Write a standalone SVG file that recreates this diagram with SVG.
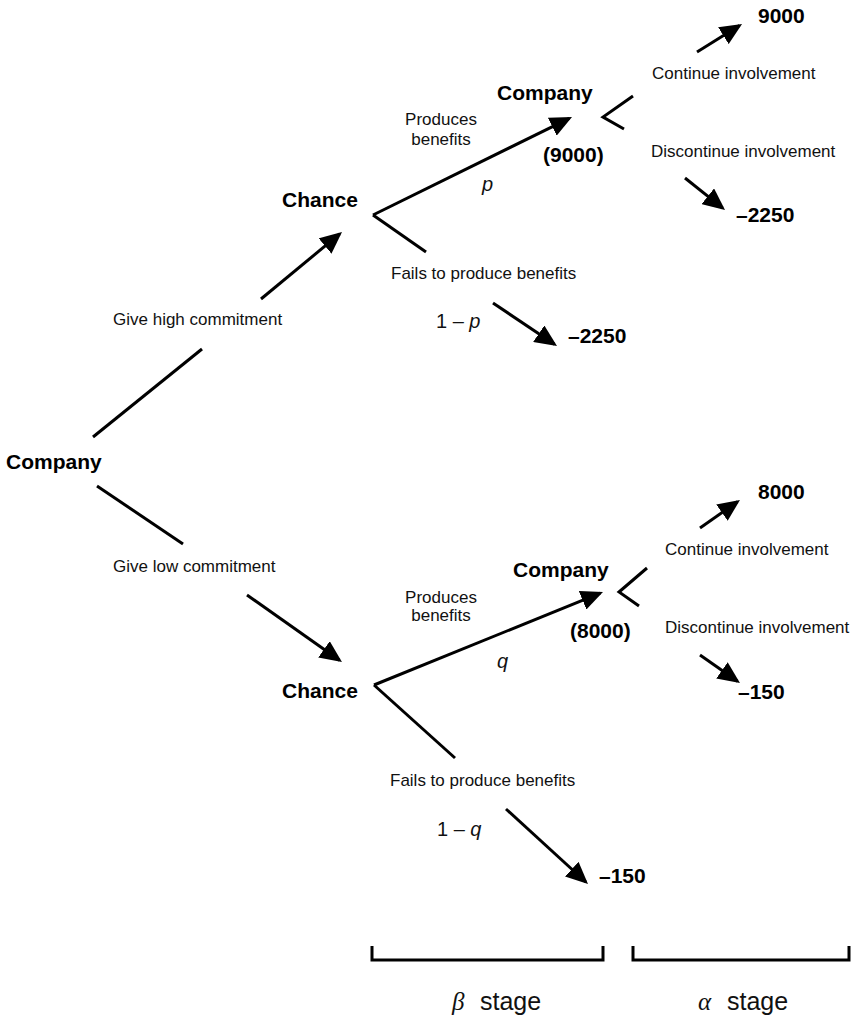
<svg xmlns="http://www.w3.org/2000/svg" width="856" height="1018" viewBox="0 0 856 1018">
  <style>
    .lbl { font-family: "Liberation Sans", Arial, sans-serif; font-size: 17px; fill: #111; }
    .prob { font-family: "Liberation Sans", Arial, sans-serif; font-size: 20px; fill: #111; }
    .node { font-family: "Liberation Sans", Arial, sans-serif; font-size: 21px; font-weight: bold; fill: #000; }
    .it { font-style: italic; }
    .stage { font-family: "Liberation Sans", Arial, sans-serif; font-size: 25px; fill: #111; }
    .greek { font-family: "Liberation Serif", "Times New Roman", serif; font-style: italic; font-size: 25px; fill: #111; }
    .edge { fill: none; stroke: #000; stroke-width: 3; }
    .arrow { marker-end: url(#head); }
    .brace { fill: none; stroke: #000; stroke-width: 3; }
  </style>
  <defs>
    <marker id="head" markerUnits="userSpaceOnUse" viewBox="0 0 22 20" markerWidth="22" markerHeight="20" refX="19" refY="10" orient="auto">
      <path d="M0,0 L22,10 L0,20 z" fill="#000"/>
    </marker>
  </defs>
  <rect width="856" height="1018" fill="#fff"/>

  <!-- connectors -->
  <g id="connectors">
    <!-- root: high commitment -->
    <line class="edge" x1="93" y1="437" x2="202" y2="349"/>
    <line class="edge arrow" x1="261" y1="299" x2="339.7" y2="233.9"/>
    <!-- root: low commitment -->
    <line class="edge" x1="97" y1="486" x2="183" y2="544"/>
    <line class="edge arrow" x1="247" y1="595" x2="339.5" y2="660.3"/>
    <!-- upper chance -->
    <line class="edge arrow" x1="373" y1="215" x2="569.3" y2="118.3"/>
    <line class="edge" x1="373" y1="215" x2="426" y2="252"/>
    <line class="edge arrow" x1="493" y1="303" x2="554.5" y2="344.3"/>
    <!-- lower chance -->
    <line class="edge arrow" x1="374" y1="685" x2="600.2" y2="593.1"/>
    <line class="edge" x1="374" y1="685" x2="455" y2="758"/>
    <line class="edge arrow" x1="506" y1="809" x2="585.8" y2="882"/>
    <!-- upper company decision -->
    <polyline class="edge" points="633,96 603,117 624,129"/>
    <line class="edge arrow" x1="697" y1="52" x2="739.5" y2="25.6"/>
    <line class="edge arrow" x1="685" y1="178" x2="722.7" y2="208.1"/>
    <!-- lower company decision -->
    <polyline class="edge" points="647,568 619,592 639,606"/>
    <line class="edge arrow" x1="700" y1="528" x2="737.5" y2="501.7"/>
    <line class="edge arrow" x1="700" y1="655" x2="737.5" y2="681.3"/>
  </g>

  <!-- branch labels -->
  <g id="branch-labels">
    <text class="lbl" x="113" y="325">Give high commitment</text>
    <text class="lbl" x="113" y="572">Give low commitment</text>
    <text class="lbl" x="441" y="125" text-anchor="middle">Produces</text>
    <text class="lbl" x="441" y="145" text-anchor="middle">benefits</text>
    <text class="prob it" x="482" y="191">p</text>
    <text class="lbl" x="391" y="279">Fails to produce benefits</text>
    <text class="prob" x="436" y="328">1 – <tspan class="it">p</tspan></text>
    <text class="lbl" x="441" y="603" text-anchor="middle">Produces</text>
    <text class="lbl" x="441" y="621" text-anchor="middle">benefits</text>
    <text class="prob it" x="497" y="668">q</text>
    <text class="lbl" x="390" y="786">Fails to produce benefits</text>
    <text class="prob" x="437" y="836">1 – <tspan class="it">q</tspan></text>
    <text class="lbl" x="652" y="79">Continue involvement</text>
    <text class="lbl" x="651" y="157">Discontinue involvement</text>
    <text class="lbl" x="665" y="555">Continue involvement</text>
    <text class="lbl" x="665" y="633">Discontinue involvement</text>
  </g>

  <!-- decision and chance nodes -->
  <g id="root-company"><text class="node" x="6" y="469">Company</text></g>
  <g id="chance-high"><text class="node" x="282" y="207">Chance</text></g>
  <g id="chance-low"><text class="node" x="282" y="698">Chance</text></g>
  <g id="company-high">
    <text class="node" x="497" y="100">Company</text>
    <text class="node" x="543" y="162">(9000)</text>
  </g>
  <g id="company-low">
    <text class="node" x="513" y="577">Company</text>
    <text class="node" x="570" y="638">(8000)</text>
  </g>

  <!-- payoffs -->
  <g id="payoff-9000"><text class="node" x="758" y="23">9000</text></g>
  <g id="payoff-high-disc"><text class="node" x="736" y="222">–2250</text></g>
  <g id="payoff-high-fail"><text class="node" x="568" y="343">–2250</text></g>
  <g id="payoff-8000"><text class="node" x="758" y="499">8000</text></g>
  <g id="payoff-low-disc"><text class="node" x="738" y="699">–150</text></g>
  <g id="payoff-low-fail"><text class="node" x="599" y="883">–150</text></g>

  <!-- stage brackets -->
  <g id="beta-stage">
    <path class="brace" d="M372,946 V960 H603 V946"/>
    <text class="greek" x="452" y="1010">β</text>
    <text class="stage" x="480" y="1010">stage</text>
  </g>
  <g id="alpha-stage">
    <path class="brace" d="M633,946 V960 H849 V946"/>
    <text class="greek" x="698" y="1010">α</text>
    <text class="stage" x="727" y="1010">stage</text>
  </g>
</svg>
